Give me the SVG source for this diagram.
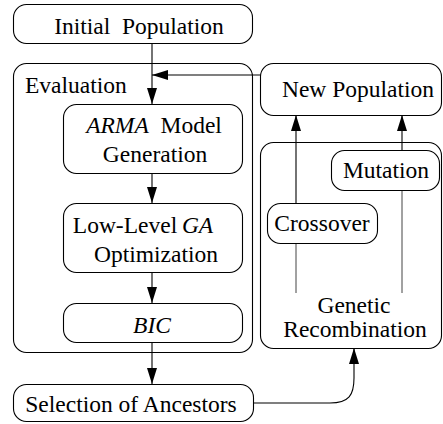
<svg xmlns="http://www.w3.org/2000/svg" width="443" height="424" viewBox="0 0 443 424">
<style>
.box{fill:#fff;stroke:#000;stroke-width:1.1}
text{font-family:"Liberation Serif","Times New Roman",serif;font-size:23.5px;fill:#000}
.c{text-anchor:middle}
.i{font-style:italic}
.ln{fill:none;stroke:#000;stroke-width:1.1}
.g{fill:none;stroke:#444;stroke-width:1}
</style>
<defs>
<marker id="ah" viewBox="0 0 16 10" refX="16" refY="5" markerWidth="16" markerHeight="10" markerUnits="userSpaceOnUse" orient="auto">
<path d="M0,0 L16,5 L0,10 Z" fill="#000"/>
</marker>
</defs>
<rect width="443" height="424" fill="#fff"/>
<g id="initial">
<rect class="box" x="13.5" y="4.5" width="239" height="39" rx="13"/>
<text class="c" x="139" y="34">Initial&#160; Population</text>
</g>
<g id="evaluation">
<rect class="box" x="13.5" y="63.5" width="239" height="289" rx="13"/>
<text x="25" y="93">Evaluation</text>
</g>
<g id="arma">
<rect class="box" x="63.5" y="104.5" width="179" height="69" rx="13"/>
<text class="c" x="154" y="133"><tspan class="i">ARMA</tspan>&#160; Model</text>
<text class="c" x="155" y="162">Generation</text>
</g>
<g id="lowlevel">
<rect class="box" x="63.5" y="203.5" width="179" height="69" rx="13"/>
<text class="c" x="143" y="233">Low-Level&#8201;<tspan class="i">GA</tspan></text>
<text class="c" x="156" y="262">Optimization</text>
</g>
<g id="bic">
<rect class="box" x="63.5" y="303.5" width="179" height="39" rx="13"/>
<text class="c i" x="152" y="333">BIC</text>
</g>
<g id="selection">
<rect class="box" x="13.5" y="384.5" width="240" height="37" rx="13"/>
<text class="c" x="131" y="412">Selection of Ancestors</text>
</g>
<g id="newpop">
<rect class="box" x="260.5" y="63.5" width="181" height="52" rx="13"/>
<text class="c" x="358" y="97">New Population</text>
</g>
<g id="genetic">
<rect class="box" x="260.5" y="142.5" width="181" height="206" rx="13"/>
<text class="c" x="354" y="313">Genetic</text>
<text class="c" x="355" y="337">Recombination</text>
</g>
<g id="mutation">
<rect class="box" x="331.5" y="150.5" width="108" height="40" rx="13"/>
<text class="c" x="386" y="178">Mutation</text>
</g>
<g id="crossover">
<rect class="box" x="267.5" y="203.5" width="110" height="40" rx="13"/>
<text class="c" x="322" y="231">Crossover</text>
</g>
<g id="connectors">
<line class="ln" x1="152" y1="43" x2="152" y2="104" marker-end="url(#ah)"/>
<line class="ln" x1="260" y1="75" x2="152" y2="75" marker-end="url(#ah)"/>
<line class="ln" x1="152" y1="173" x2="152" y2="203" marker-end="url(#ah)"/>
<line class="ln" x1="152" y1="273" x2="152" y2="303" marker-end="url(#ah)"/>
<line class="ln" x1="152" y1="343" x2="152" y2="384" marker-end="url(#ah)"/>
<path class="ln" d="M253,403 L330,403 C349,403 354,395 354,378 L354,348" marker-end="url(#ah)"/>
<line class="ln" x1="296" y1="203" x2="296" y2="115" marker-end="url(#ah)"/>
<line class="g" x1="296" y1="293" x2="296" y2="244"/>
<line class="ln" x1="402" y1="150" x2="402" y2="115" marker-end="url(#ah)"/>
<line class="g" x1="402" y1="293" x2="402" y2="191"/>
</g>
</svg>
